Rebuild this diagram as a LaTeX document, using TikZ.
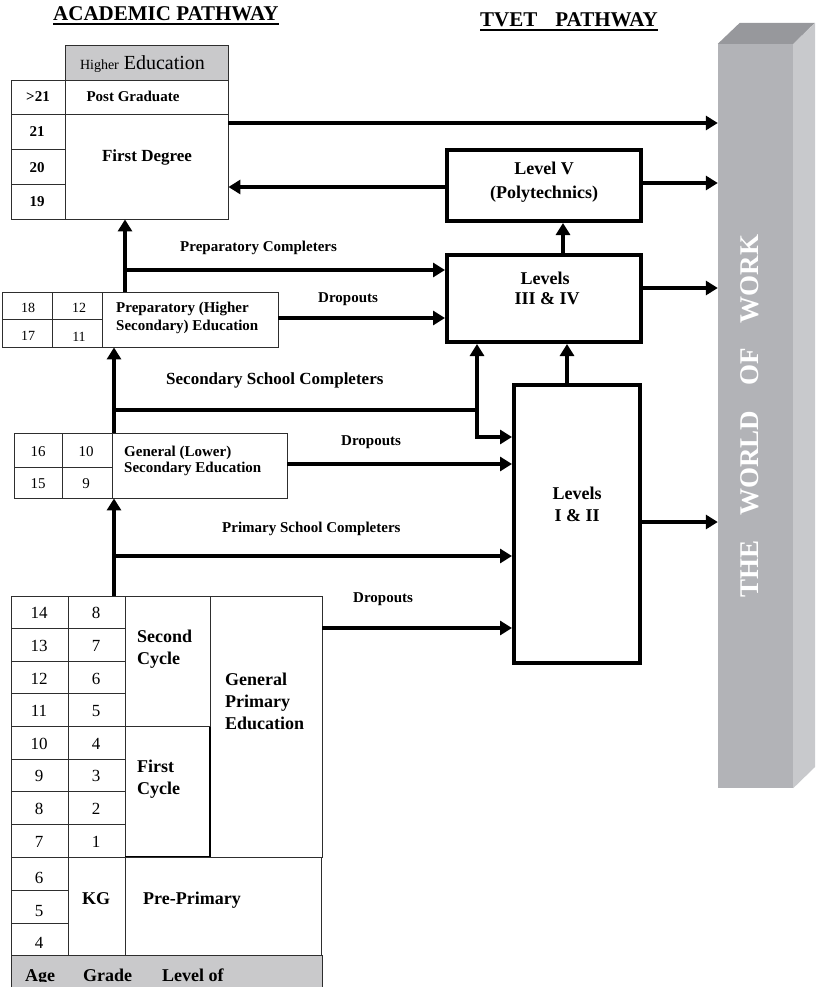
\documentclass[tikz,border=0pt]{standalone}
\usepackage{fontspec}
\setmainfont{Liberation Serif}
\usetikzlibrary{arrows.meta}

\definecolor{hdgray}{HTML}{C9C9CB}
\definecolor{barfront}{HTML}{B2B3B7}
\definecolor{bartop}{HTML}{97989C}
\definecolor{barside}{HTML}{C8C9CC}
\definecolor{rule}{HTML}{2E2E2E}

\begin{document}
\begin{tikzpicture}[x=1pt,y=-1pt,
  tab/.style={draw=rule,line width=0.9pt},
  box/.style={draw,line width=4pt,inner sep=0pt},
  flow/.style={line width=3.5pt,-{Triangle[length=12pt,width=14pt]}},
  num/.style={anchor=base,inner sep=0pt,font=\fontsize{#1}{#1}\selectfont},
  bnum/.style={anchor=base,inner sep=0pt,font=\bfseries\fontsize{#1}{#1}\selectfont},
  lab/.style={anchor=base west,inner sep=0pt,font=\bfseries\fontsize{#1}{#1}\selectfont}]

\useasboundingbox (0,0) rectangle (816,987);

\node[lab=21] (acad) at (53,21) {ACADEMIC PATHWAY};
\draw[line width=2pt] ([yshift=-3pt]acad.base west) -- ([yshift=-3pt]acad.base east);
\node[lab=21] (tvet) at (480,27) {TVET\hspace{18pt}PATHWAY};
\draw[line width=2pt] ([yshift=-3pt]tvet.base west) -- ([yshift=-3pt]tvet.base east);

\draw[tab,fill=hdgray] (65,45) rectangle (228,80);
\node[num=20] (hedu) at (142.5,70) {{\fontsize{14}{14}\selectfont Higher} Education};
\draw[tab] (65,80) rectangle (228,114);
\draw[tab] (11,80) rectangle (65,219);
\draw[tab] (11,114) -- (65,114);
\draw[tab] (11,149) -- (65,149);
\draw[tab] (11,184) -- (65,184);
\node[tab,minimum width=163pt,minimum height=105pt,inner sep=0pt] (fdeg) at (146.5,166.5) {};
\node[bnum=15] (agt21) at (38,102) {>21};
\node[bnum=15] (a21) at (37,137) {21};
\node[bnum=15] (a20) at (37,172) {20};
\node[bnum=15] (a19) at (37,207) {19};
\node[bnum=15] (pgrad) at (133,102) {Post Graduate};
\node[bnum=17] (fdtxt) at (147,162) {First Degree};

\node[box,minimum width=194pt,minimum height=71pt] (lev5) at (544,185.5) {};
\node[bnum=18] (lv5a) at (544,175) {Level V};
\node[bnum=18] (lv5b) at (544,198) {(Polytechnics)};
\node[box,minimum width=194pt,minimum height=87pt] (lev34) at (544,298.5) {};
\node[bnum=18] (lv34a) at (545,284) {Levels};
\node[bnum=18] (lv34b) at (547,304) {III \& IV};
\node[box,minimum width=126pt,minimum height=278pt] (lev12) at (577,524) {};
\node[bnum=18] (lv12a) at (577,499) {Levels};
\node[bnum=18] (lv12b) at (577,521) {I \& II};

\node[fill=barfront,inner sep=0pt,minimum width=75pt,minimum height=744pt] (world) at (755.5,416) {};
\fill[barside] (world.north east) -- ++(22,-21) -- ++(0,744) -- (world.south east) -- cycle;
\fill[bartop] (world.north west) -- ++(22,-21) -- ++(75,0) -- (world.north east) -- cycle;
\node[rotate=90,anchor=base,inner sep=0pt,text=white,font=\bfseries\fontsize{27}{27}\selectfont] (wtxt) at (758,416) {THE\hspace{25pt}WORLD\hspace{25pt}OF\hspace{25pt}WORK};

\node[tab,minimum width=276pt,minimum height=55pt,inner sep=0pt] (prep) at (140,319.5) {};
\draw[tab] (52,292) -- (52,347);
\draw[tab] (102,292) -- (102,347);
\draw[tab] (2,319) -- (102,319);
\node[num=14] (a18) at (28,312) {18};
\node[num=14] (a17) at (28,340) {17};
\node[num=14] (g12) at (79,312) {12};
\node[num=14] (g11) at (79,341) {11};
\node[lab=15] (prepa) at (116,312) {Preparatory (Higher};
\node[lab=15] (prepb) at (116,330) {Secondary) Education};

\node[tab,minimum width=273pt,minimum height=65pt,inner sep=0pt] (gsec) at (150.5,465.5) {};
\draw[tab] (62,433) -- (62,498);
\draw[tab] (112,433) -- (112,498);
\draw[tab] (14,467) -- (112,467);
\node[num=15] (a16) at (38,456) {16};
\node[num=15] (a15) at (38,488) {15};
\node[num=15] (g10) at (86,456) {10};
\node[num=15] (g9) at (86,488) {9};
\node[lab=15] (gseca) at (124,456) {General (Lower)};
\node[lab=15] (gsecb) at (124,472) {Secondary Education};

\node[tab,minimum width=311pt,minimum height=261pt,inner sep=0pt] (prim) at (166.5,726.5) {};
\draw[tab] (68,596) -- (68,857);
\draw[tab] (125,596) -- (125,857);
\draw[tab] (210,596) -- (210,857);
\draw[tab] (11,628.6) -- (125,628.6);
\draw[tab] (11,661.3) -- (125,661.3);
\draw[tab] (11,693.9) -- (125,693.9);
\draw[tab] (11,726.5) -- (210,726.5);
\draw[tab] (11,759.1) -- (125,759.1);
\draw[tab] (11,791.8) -- (125,791.8);
\draw[tab] (11,824.4) -- (125,824.4);
\draw[line width=1.8pt] (210,726.5) -- (210,857) -- (125,857);
\node[num=17] (a14) at (39,618) {14};
\node[num=17] (a13) at (39,651) {13};
\node[num=17] (a12) at (39,684) {12};
\node[num=17] (a11) at (39,716) {11};
\node[num=17] (a10) at (39,749) {10};
\node[num=17] (a9) at (39,781) {9};
\node[num=17] (a8) at (39,814) {8};
\node[num=17] (a7) at (39,847) {7};
\node[num=17] (g8) at (96,618) {8};
\node[num=17] (g7) at (96,651) {7};
\node[num=17] (g6) at (96,684) {6};
\node[num=17] (g5) at (96,716) {5};
\node[num=17] (g4) at (96,749) {4};
\node[num=17] (g3) at (96,781) {3};
\node[num=17] (g2) at (96,814) {2};
\node[num=17] (g1) at (96,847) {1};
\node[lab=18] (cyc2a) at (137,642) {Second};
\node[lab=18] (cyc2b) at (137,664) {Cycle};
\node[lab=18] (cyc1a) at (137,772) {First};
\node[lab=18] (cyc1b) at (137,794) {Cycle};
\node[lab=18] (gpea) at (225,685) {General};
\node[lab=18] (gpeb) at (225,707) {Primary};
\node[lab=18] (gpec) at (225,729) {Education};

\node[tab,minimum width=310pt,minimum height=98pt,inner sep=0pt] (pprim) at (166,906) {};
\draw[tab] (68,857) -- (68,955);
\draw[tab] (125,857) -- (125,955);
\draw[tab] (11,890) -- (68,890);
\draw[tab] (11,923) -- (68,923);
\node[num=17] (a6) at (39,883) {6};
\node[num=17] (a5) at (39,916) {5};
\node[num=17] (a4) at (39,948) {4};
\node[bnum=18] (kg) at (96,904) {KG};
\node[lab=18] (pptxt) at (143,904) {Pre-Primary};

\draw[tab,fill=hdgray] (11,955) rectangle (322,1000);
\begin{scope}
\clip (0,0) rectangle (816,981);
\node[lab=18] (fage) at (25,981) {Age};
\node[lab=18] (fgrade) at (83,981) {Grade};
\node[lab=18] (flevel) at (162,981) {Level of};
\end{scope}

\coordinate (s1) at (114,0);
\coordinate (s2) at (125,0);
\coordinate (s3) at (567,0);
\coordinate (s4) at (563,0);
\coordinate (s5) at (477,0);
\coordinate (b1) at (114,556);
\coordinate (b2) at (114,410);
\coordinate (b3) at (125,270);
\coordinate (c2) at (0,437);
\coordinate (d1) at (0,628);
\coordinate (d2) at (0,464);
\coordinate (d3) at (0,318);
\coordinate (d4) at (0,187);
\coordinate (o1) at (0,123);
\coordinate (o2) at (0,183);
\coordinate (o3) at (0,288);
\coordinate (o4) at (0,522);

\draw[flow] (prim.north -| s1) -- (gsec.south -| s1);
\draw[flow] (b1) -- (lev12.west |- b1);
\draw[flow] (prim.east |- d1) -- (lev12.west |- d1);
\draw[flow] (gsec.north -| s1) -- (prep.south -| s1);
\draw[flow] (b2) -| (lev34.south -| s5);
\draw[flow] (b2 -| s5) |- (lev12.west |- c2);
\draw[flow] (gsec.east |- d2) -- (lev12.west |- d2);
\draw[flow] (prep.north -| s2) -- (fdeg.south -| s2);
\draw[flow] (b3) -- (lev34.west |- b3);
\draw[flow] (prep.east |- d3) -- (lev34.west |- d3);
\draw[flow] (lev12.north -| s3) -- (lev34.south -| s3);
\draw[flow] (lev34.north -| s4) -- (lev5.south -| s4);
\draw[flow] (lev5.west |- d4) -- (fdeg.east |- d4);
\draw[flow] (fdeg.east |- o1) -- (world.west |- o1);
\draw[flow] (lev5.east |- o2) -- (world.west |- o2);
\draw[flow] (lev34.east |- o3) -- (world.west |- o3);
\draw[flow] (lev12.east |- o4) -- (world.west |- o4);

\node[lab=15] (lprep) at (180,251) {Preparatory Completers};
\node[lab=15] (ldrop1) at (318,302) {Dropouts};
\node[lab=17] (lsec) at (166,384) {Secondary School Completers};
\node[lab=15] (ldrop2) at (341,445) {Dropouts};
\node[lab=15] (lprim) at (222,532) {Primary School Completers};
\node[lab=15] (ldrop3) at (353,602) {Dropouts};
\end{tikzpicture}
\end{document}
